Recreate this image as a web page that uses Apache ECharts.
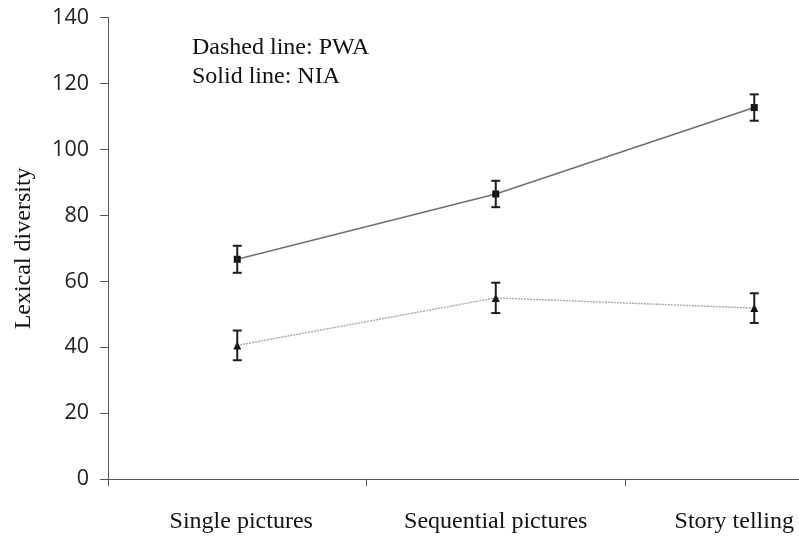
<!DOCTYPE html>
<html>
<head>
<meta charset="utf-8">
<script src="https://cdn.jsdelivr.net/npm/echarts@6/dist/echarts.min.js"></script>
<style>html,body{margin:0;padding:0;background:#fff}#c{width:799px;height:539px}</style>
</head>
<body>
<div id="c"></div>
<script>
var categories = ['Single pictures', 'Sequential pictures', 'Story telling'];
var niaMean = [66.7, 86.5, 112.7];
var niaErr = [4.1, 4.0, 4.0];
var pwaMean = [40.6, 55.0, 51.9];
var pwaErr = [4.5, 4.6, 4.5];
var yTicks = [0, 20, 40, 60, 80, 100, 120, 140];
var yName = 'Lexical diversity';
var notes = ['Dashed line: PWA', 'Solid line: NIA'];

function errData(mean, err) {
  return mean.map(function (m, i) { return [i, m - err[i], m + err[i]]; });
}
function errRender(params, api) {
  var x = api.value(0);
  var lo = api.coord([x, api.value(1)]);
  var hi = api.coord([x, api.value(2)]);
  var hw = 4.5;
  var st = { stroke: '#1e1e1e', lineWidth: 2 };
  return {
    type: 'group',
    children: [
      { type: 'line', shape: { x1: hi[0], y1: hi[1], x2: lo[0], y2: lo[1] }, style: st },
      { type: 'line', shape: { x1: hi[0] - hw, y1: hi[1], x2: hi[0] + hw, y2: hi[1] }, style: st },
      { type: 'line', shape: { x1: lo[0] - hw, y1: lo[1], x2: lo[0] + hw, y2: lo[1] }, style: st }
    ]
  };
}

// label offsets (layout only): shift labels to fit as in the original figure
var labelPads = [[0, 0, 0, 8], [0, 0, 0, 0], [0, 40, 0, 0]];
var catData = categories.map(function (c, i) {
  return { value: c, textStyle: { padding: labelPads[i] } };
});

var chart = echarts.init(document.getElementById('c'));
chart.setOption({
  animation: false,
  grid: { left: 108, top: 17.5, width: 775.5, height: 461.8, containLabel: false, outerBoundsMode: 'none' },
  xAxis: {
    type: 'category',
    data: catData,
    boundaryGap: true,
    axisLine: { lineStyle: { color: '#555', width: 1 } },
    axisTick: { show: true, length: 7, lineStyle: { color: '#555' } },
    axisLabel: { color: '#111', fontFamily: 'Liberation Serif', fontSize: 24, margin: 30, interval: 0 },
    splitLine: { show: false }
  },
  yAxis: {
    type: 'value',
    min: yTicks[0],
    max: yTicks[yTicks.length - 1],
    interval: 20,
    name: yName,
    nameLocation: 'middle',
    nameGap: 72,
    nameTextStyle: { color: '#111', fontFamily: 'Liberation Serif', fontSize: 24 },
    axisLine: { show: true, lineStyle: { color: '#555', width: 1 } },
    axisTick: { show: true, length: 8, lineStyle: { color: '#555' } },
    axisLabel: { color: '#222', fontFamily: 'Open Sans', fontSize: 21.5, margin: 19 },
    splitLine: { show: false }
  },
  graphic: [
    { type: 'text', left: 192, top: 36, style: { text: notes[0], font: '24px "Liberation Serif"', fill: '#111' } },
    { type: 'text', left: 192, top: 65, style: { text: notes[1], font: '24px "Liberation Serif"', fill: '#111' } }
  ],
  series: [
    {
      name: 'NIA', type: 'line', data: niaMean,
      symbol: 'rect', symbolSize: 7,
      itemStyle: { color: '#111' },
      lineStyle: { color: '#707070', width: 1.6, type: 'solid' },
      z: 3
    },
    {
      name: 'PWA', type: 'line', data: pwaMean,
      symbol: 'triangle', symbolSize: 8,
      itemStyle: { color: '#111' },
      lineStyle: { color: '#a8a8a8', width: 1.4, type: [2, 1] },
      z: 3
    },
    { type: 'custom', data: errData(niaMean, niaErr), renderItem: errRender, z: 4 },
    { type: 'custom', data: errData(pwaMean, pwaErr), renderItem: errRender, z: 4 }
  ]
});
</script>
</body>
</html>
